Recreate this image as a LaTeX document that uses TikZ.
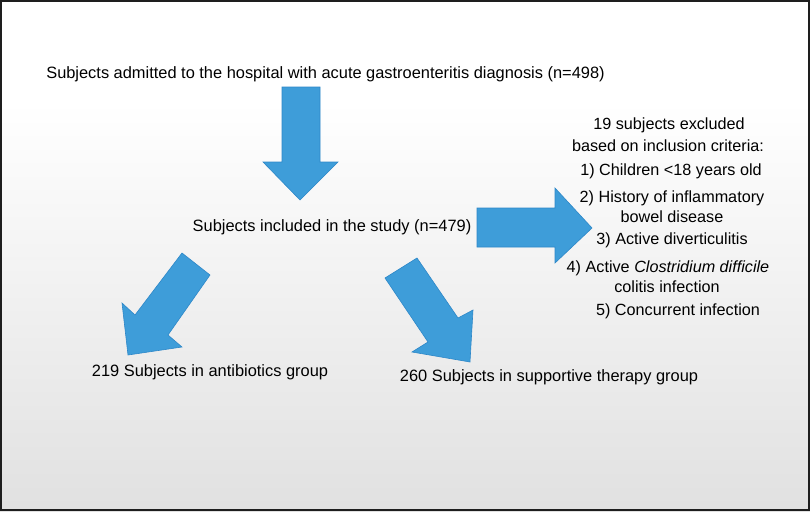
\documentclass[tikz,border=0pt]{standalone}
\usepackage{fontspec}
\setmainfont{Liberation Sans}
\definecolor{arrowblue}{RGB}{62,157,217}
\definecolor{arrowedge}{RGB}{45,135,200}
\definecolor{bgbottom}{RGB}{206,206,206}
\definecolor{bgmid}{RGB}{236,236,236}
\pgfdeclareverticalshading{bgshade}{100bp}{color(0bp)=(bgbottom); color(40bp)=(bgmid); color(65bp)=(white); color(100bp)=(white)}
\tikzset{
  blockarrow/.style={fill=arrowblue, draw=arrowedge, line width=0.6pt, line join=miter},
  lbl/.style={font=\fontsize{16.4}{18}\selectfont, inner sep=0pt, anchor=center},
  excl/.style={font=\fontsize{16.2}{18}\selectfont, inner sep=0pt, anchor=center},
}
\begin{document}
\begin{tikzpicture}[x=1pt,y=-1pt]
\useasboundingbox (0,0) rectangle (810,511);
\shade[shading=bgshade] (0,0) rectangle (810,511);
\draw[line width=2pt, draw={rgb,255:red,30;green,30;blue,30}] (1,1) rectangle (809,510);

% texts
\node[lbl] (adm) at (325.5,74) {Subjects admitted to the hospital with acute gastroenteritis diagnosis (n=498)};
\node[lbl] (inc) at (332,227) {Subjects included in the study (n=479)};
\node[lbl] (anti) at (210,372) {219 Subjects in antibiotics group};
\node[lbl] (supp) at (549,377) {260 Subjects in supportive therapy group};

\node[excl] (e1) at (669,125) {19 subjects excluded};
\node[excl] (e2) at (668,146) {based on inclusion criteria:};
\node[excl] (e3) at (671,171) {1) Children <18 years old};
\node[excl] (e4) at (672,198) {2) History of inflammatory};
\node[excl] (e5) at (672,217) {bowel disease};
\node[excl] (e6) at (672,240) {3) Active diverticulitis};
\node[excl] (e7) at (668,268) {4) Active \textit{Clostridium difficile}};
\node[excl] (e8) at (667,287) {colitis infection};
\node[excl] (e9) at (678,311) {5) Concurrent infection};

% block arrows
\draw[blockarrow] (282,87) -- (320,87) -- (320,162) -- (338,162) -- (300,200) -- (263,162) -- (282,162) -- cycle;
\draw[blockarrow] (477,208) -- (555,208) -- (555,188) -- (592,228) -- (555,263) -- (555,247) -- (477,247) -- cycle;
\draw[blockarrow] (182,253) -- (210,275) -- (168,335) -- (182,347) -- (128,355) -- (122,303) -- (135,315) -- cycle;
\draw[blockarrow] (385,278) -- (417,258) -- (458,318) -- (473,310) -- (470,362) -- (412,352) -- (428,342) -- cycle;
\end{tikzpicture}
\end{document}
